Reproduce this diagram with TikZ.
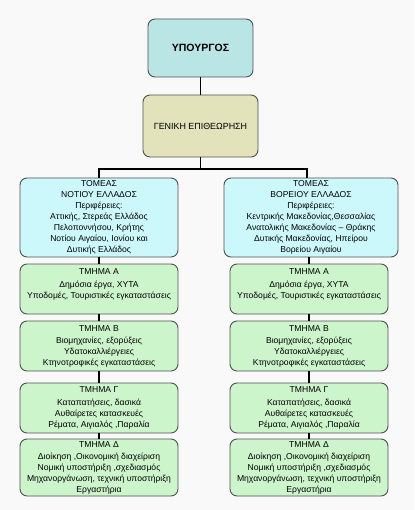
\documentclass[tikz,border=0pt]{standalone}
\usepackage{fontspec}
\setmainfont{Liberation Sans}
\definecolor{bgc}{HTML}{F9F9F9}
\definecolor{minc}{HTML}{B9E5E5}
\definecolor{genc}{HTML}{E3E3BB}
\definecolor{regc}{HTML}{CCF8FB}
\definecolor{depc}{HTML}{CCF5CC}
\definecolor{edgec}{HTML}{505050}
\tikzset{
  x=1pt,y=-1pt,
  box/.style={draw=edgec,line width=0.9pt,rounded corners=7pt,align=center,
    inner sep=0pt,font=\fontsize{8.6}{11}\selectfont},
  minbox/.style={box,fill=minc,minimum width=105pt,minimum height=58pt,font=\fontsize{10.5}{12}\selectfont\bfseries},
  genbox/.style={box,fill=genc,minimum width=115pt,minimum height=62pt,font=\fontsize{8.9}{11}\selectfont},
  regbox/.style={box,fill=regc,minimum height=79pt},
  depbox/.style={box,fill=depc,minimum width=158pt},
  link/.style={line width=1.8pt,black},
}
\begin{document}
\begin{tikzpicture}
\fill[bgc] (0,0) rectangle (414,510);
\useasboundingbox (0,0) rectangle (414,510);
\node[minbox] (min) at (200.5,48) {ΥΠΟΥΡΓΟΣ};
\node[genbox] (gen) at (200.5,126) {ΓΕΝΙΚΗ ΕΠΙΘΕΩΡΗΣΗ};
\node[regbox,minimum width=158pt] (south) at (99,217.5) {ΤΟΜΕΑΣ\\ΝΟΤΙΟΥ ΕΛΛΑΔΟΣ\\Περιφέρειες:\\Αττικής, Στερεάς Ελλάδος\\Πελοποννήσου, Κρήτης\\Νοτίου Αιγαίου, Ιονίου και\\Δυτικής Ελλάδος};
\node[regbox,minimum width=174pt] (north) at (311,217.5) {ΤΟΜΕΑΣ\\ΒΟΡΕΙΟΥ ΕΛΛΑΔΟΣ\\Περιφέρειες:\\Κεντρικής Μακεδονίας,Θεσσαλίας\\Ανατολικής Μακεδονίας – Θράκης\\Δυτικής Μακεδονίας, Ηπείρου\\Βορείου Αιγαίου};
% south column
\node[depbox,minimum height=50pt] (sa) at (99,289) {ΤΜΗΜΑ Α\\[2pt]Δημόσια έργα, ΧΥΤΑ\\Υποδομές, Τουριστικές εγκαταστάσεις\\\mbox{}};
\node[depbox,minimum height=50pt] (sb) at (99,346) {ΤΜΗΜΑ Β\\[1pt]Βιομηχανίες, εξορύξεις\\Υδατοκαλλιέργειες\\Κτηνοτροφικές εγκαταστάσεις};
\node[depbox,minimum height=50pt] (sc) at (99,408) {ΤΜΗΜΑ Γ\\[2pt]Καταπατήσεις, δασικά\\Αυθαίρετες κατασκευές\\Ρέματα, Αιγιαλός ,Παραλία};
\node[depbox,minimum height=57pt] (sd) at (99,467.5) {ΤΜΗΜΑ Δ\\[1pt]Διοίκηση ,Οικονομική διαχείριση\\Νομική υποστήριξη ,σχεδιασμός\\Μηχανοργάνωση, τεχνική υποστήριξη\\Εργαστήρια};
% north column
\node[depbox,minimum height=50pt] (na) at (309,289) {ΤΜΗΜΑ Α\\[2pt]Δημόσια έργα, ΧΥΤΑ\\Υποδομές, Τουριστικές εγκαταστάσεις\\\mbox{}};
\node[depbox,minimum height=50pt] (nb) at (309,346) {ΤΜΗΜΑ Β\\[1pt]Βιομηχανίες, εξορύξεις\\Υδατοκαλλιέργειες\\Κτηνοτροφικές εγκαταστάσεις};
\node[depbox,minimum height=50pt] (nc) at (309,408) {ΤΜΗΜΑ Γ\\[2pt]Καταπατήσεις, δασικά\\Αυθαίρετες κατασκευές\\Ρέματα, Αιγιαλός ,Παραλία};
\node[depbox,minimum height=57pt] (nd) at (309,467.5) {ΤΜΗΜΑ Δ\\[1pt]Διοίκηση ,Οικονομική διαχείριση\\Νομική υποστήριξη ,σχεδιασμός\\Μηχανοργάνωση, τεχνική υποστήριξη\\Εργαστήρια};
% connectors
\coordinate (split) at (200.5,169);
\draw[link] (min.south) -- (gen.north);
\draw[link] (gen.south) -- (split);
\draw[link] (split) -| (south.north);
\draw[link] (split) -| ([xshift=-4pt]north.north);
\draw[link] (south.south) -- (sa.north);
\draw[link] (sa.south) -- (sb.north);
\draw[link] (sb.south) -- (sc.north);
\draw[link] (sc.south) -- (sd.north);
\draw[link] (na.north |- north.south) -- (na.north);
\draw[link] (na.south) -- (nb.north);
\draw[link] (nb.south) -- (nc.north);
\draw[link] (nc.south) -- (nd.north);
\end{tikzpicture}
\end{document}
